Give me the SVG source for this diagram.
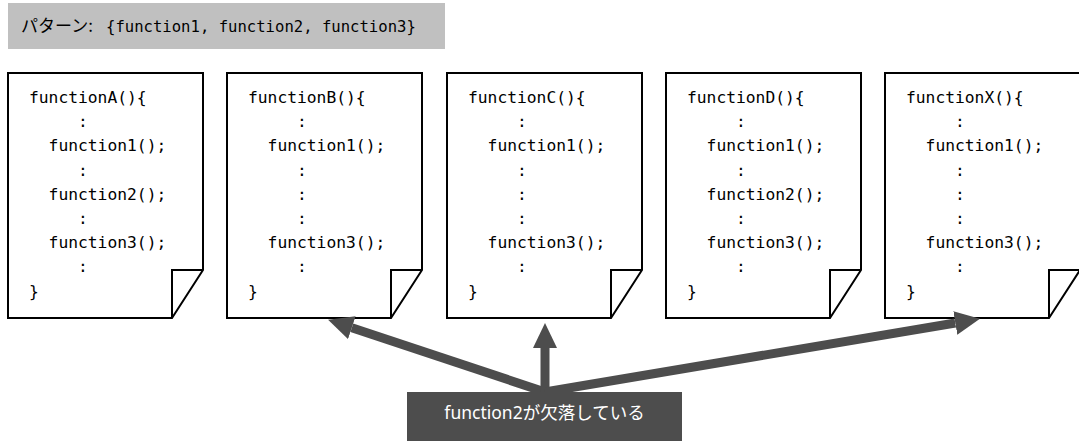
<svg xmlns="http://www.w3.org/2000/svg" width="1079" height="441" viewBox="0 0 1079 441">
<style>
.doc{fill:#fff;stroke:#000;stroke-width:2;stroke-linejoin:miter}
.fold{fill:none;stroke:#000;stroke-width:2}
.code{font-family:"DejaVu Sans Mono","Liberation Mono",monospace;font-size:16.3px;fill:#000;white-space:pre}
.jp{font-family:"Noto Sans CJK JP","Noto Sans",sans-serif;font-size:17px;fill:#000}
.hmono{font-family:"DejaVu Sans Mono","Liberation Mono",monospace;font-size:15.6px;fill:#000;white-space:pre}
.arr{stroke:#4d4d4d;stroke-width:9;fill:none}
.lbl{font-family:"Noto Sans","Noto Sans CJK JP",sans-serif;font-size:17.5px;fill:#fff}
</style>
<defs>
<marker id="ah" markerUnits="userSpaceOnUse" markerWidth="25" markerHeight="24" viewBox="0 0 25 24" refX="0" refY="12" orient="auto">
<path d="M0,0 L25,12 L0,24 z" fill="#4d4d4d"/>
</marker>
</defs>
<g id="pattern">
<rect x="8" y="3" width="437" height="46" fill="#c0c0c0"/>
<text class="jp" x="21" y="32">パターン:</text>
<text class="hmono" x="106" y="32">{function1, function2, function3}</text>
</g>
<g id="docA">
<path class="doc" d="M8,73 H203 V270 L172,318 H8 Z"/>
<path class="fold" d="M172,318 V270 H203"/>
<text class="code"><tspan x="29" y="103">functionA(){</tspan><tspan x="29" y="127.2">     :</tspan><tspan x="29" y="151.4">  function1();</tspan><tspan x="29" y="175.6">     :</tspan><tspan x="29" y="199.8">  function2();</tspan><tspan x="29" y="224">     :</tspan><tspan x="29" y="248.2">  function3();</tspan><tspan x="29" y="272.4">     :</tspan><tspan x="29" y="296.6">}</tspan></text>
</g>
<g id="docB">
<path class="doc" d="M227,73 H422 V270 L391,318 H227 Z"/>
<path class="fold" d="M391,318 V270 H422"/>
<text class="code"><tspan x="248" y="103">functionB(){</tspan><tspan x="248" y="127.2">     :</tspan><tspan x="248" y="151.4">  function1();</tspan><tspan x="248" y="175.6">     :</tspan><tspan x="248" y="199.8">     :</tspan><tspan x="248" y="224">     :</tspan><tspan x="248" y="248.2">  function3();</tspan><tspan x="248" y="272.4">     :</tspan><tspan x="248" y="296.6">}</tspan></text>
</g>
<g id="docC">
<path class="doc" d="M447,73 H642 V270 L611,318 H447 Z"/>
<path class="fold" d="M611,318 V270 H642"/>
<text class="code"><tspan x="468" y="103">functionC(){</tspan><tspan x="468" y="127.2">     :</tspan><tspan x="468" y="151.4">  function1();</tspan><tspan x="468" y="175.6">     :</tspan><tspan x="468" y="199.8">     :</tspan><tspan x="468" y="224">     :</tspan><tspan x="468" y="248.2">  function3();</tspan><tspan x="468" y="272.4">     :</tspan><tspan x="468" y="296.6">}</tspan></text>
</g>
<g id="docD">
<path class="doc" d="M666,73 H861 V270 L830,318 H666 Z"/>
<path class="fold" d="M830,318 V270 H861"/>
<text class="code"><tspan x="687" y="103">functionD(){</tspan><tspan x="687" y="127.2">     :</tspan><tspan x="687" y="151.4">  function1();</tspan><tspan x="687" y="175.6">     :</tspan><tspan x="687" y="199.8">  function2();</tspan><tspan x="687" y="224">     :</tspan><tspan x="687" y="248.2">  function3();</tspan><tspan x="687" y="272.4">     :</tspan><tspan x="687" y="296.6">}</tspan></text>
</g>
<g id="docX">
<path class="doc" d="M885,73 H1080 V270 L1049,318 H885 Z"/>
<path class="fold" d="M1049,318 V270 H1080"/>
<text class="code"><tspan x="906" y="103">functionX(){</tspan><tspan x="906" y="127.2">     :</tspan><tspan x="906" y="151.4">  function1();</tspan><tspan x="906" y="175.6">     :</tspan><tspan x="906" y="199.8">     :</tspan><tspan x="906" y="224">     :</tspan><tspan x="906" y="248.2">  function3();</tspan><tspan x="906" y="272.4">     :</tspan><tspan x="906" y="296.6">}</tspan></text>
</g>
<g id="connectors">
<line class="arr" x1="545" y1="392" x2="351.8" y2="327.7" marker-end="url(#ah)"/>
<line class="arr" x1="545" y1="394" x2="545" y2="348" marker-end="url(#ah)"/>
<line class="arr" x1="545" y1="392" x2="955.3" y2="323" marker-end="url(#ah)"/>
</g>
<g id="label">
<rect x="407" y="392" width="275" height="49" fill="#4d4d4d"/>
<text class="lbl" x="544.5" y="419" text-anchor="middle">function2が欠落している</text>
</g>
</svg>
